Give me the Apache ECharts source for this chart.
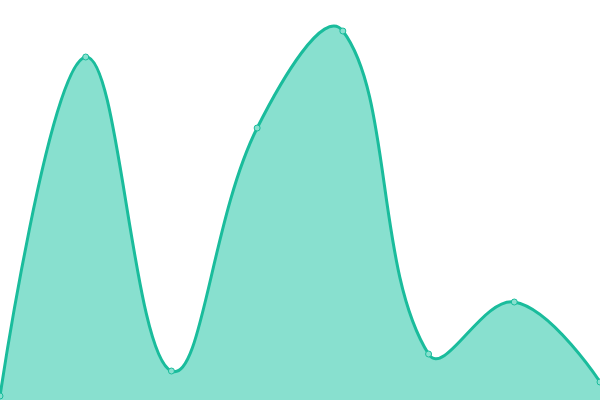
<!DOCTYPE html>
<html>
<head>
<meta charset="utf-8">
<script src="https://cdn.jsdelivr.net/npm/echarts@6/dist/echarts.min.js"></script>
<style>
html, body { margin: 0; padding: 0; background: #fff; }
#main { width: 600px; height: 400px; }
</style>
</head>
<body>
<div id="main"></div>
<script>
var categories = ['A', 'B', 'C', 'D', 'E', 'F', 'G', 'H'];
var values = [4, 343, 29, 272, 369, 46, 98, 18];

// cardinal-style smoothing (control vector = next - prev, split by segment length)
function smoothPath(pts, smooth) {
    var d = 'M' + pts[0][0] + ' ' + pts[0][1];
    var cpx0 = pts[0][0], cpy0 = pts[0][1];
    for (var i = 1; i < pts.length; i++) {
        var x = pts[i][0], y = pts[i][1];
        var px = pts[i - 1][0], py = pts[i - 1][1];
        var ncx, ncy, vx = 0, vy = 0, ratio = 0.5;
        if (i === pts.length - 1) {
            ncx = x; ncy = y;
        } else {
            var nx = pts[i + 1][0], ny = pts[i + 1][1];
            vx = nx - px; vy = ny - py;
            var l0 = Math.sqrt((x - px) * (x - px) + (y - py) * (y - py));
            var l1 = Math.sqrt((nx - x) * (nx - x) + (ny - y) * (ny - y));
            ratio = l1 / (l0 + l1);
            ncx = x - vx * smooth * (1 - ratio);
            ncy = y - vy * smooth * (1 - ratio);
        }
        d += ' C' + cpx0 + ' ' + cpy0 + ' ' + ncx + ' ' + ncy + ' ' + x + ' ' + y;
        cpx0 = x + vx * smooth * ratio;
        cpy0 = y + vy * smooth * ratio;
    }
    return d;
}

var chart = echarts.init(document.getElementById('main'));
var option = {
    animation: false,
    grid: { left: 0, right: 0, top: 0, bottom: 0 },
    xAxis: {
        type: 'category',
        data: categories,
        boundaryGap: false,
        show: false
    },
    yAxis: {
        type: 'value',
        min: 0,
        max: 400,
        show: false
    },
    series: [{
        type: 'custom',
        z: 1,
        silent: true,
        data: values.map(function (v, i) { return [i, v]; }),
        renderItem: function (params, api) {
            if (params.dataIndex !== 0) return;
            var pts = values.map(function (v, i) { return api.coord([i, v]); });
            var base = api.coord([0, 0])[1];
            var last = pts[pts.length - 1];
            var d = smoothPath(pts, 0.4);
            return {
                type: 'group',
                children: [{
                    type: 'path',
                    shape: { pathData: d + ' L' + last[0] + ' ' + base + ' L' + pts[0][0] + ' ' + base + ' Z' },
                    style: { fill: '#88e0cf', stroke: null }
                }, {
                    type: 'path',
                    shape: { pathData: d },
                    style: { fill: null, stroke: '#1abc9c', lineWidth: 3 }
                }]
            };
        }
    }, {
        type: 'line',
        z: 3,
        data: values,
        symbol: 'circle',
        symbolSize: 6,
        lineStyle: { width: 0, opacity: 0 },
        itemStyle: { color: '#88e0cf', borderColor: '#1abc9c', borderWidth: 1 }
    }]
};
chart.setOption(option);
</script>
</body>
</html>
